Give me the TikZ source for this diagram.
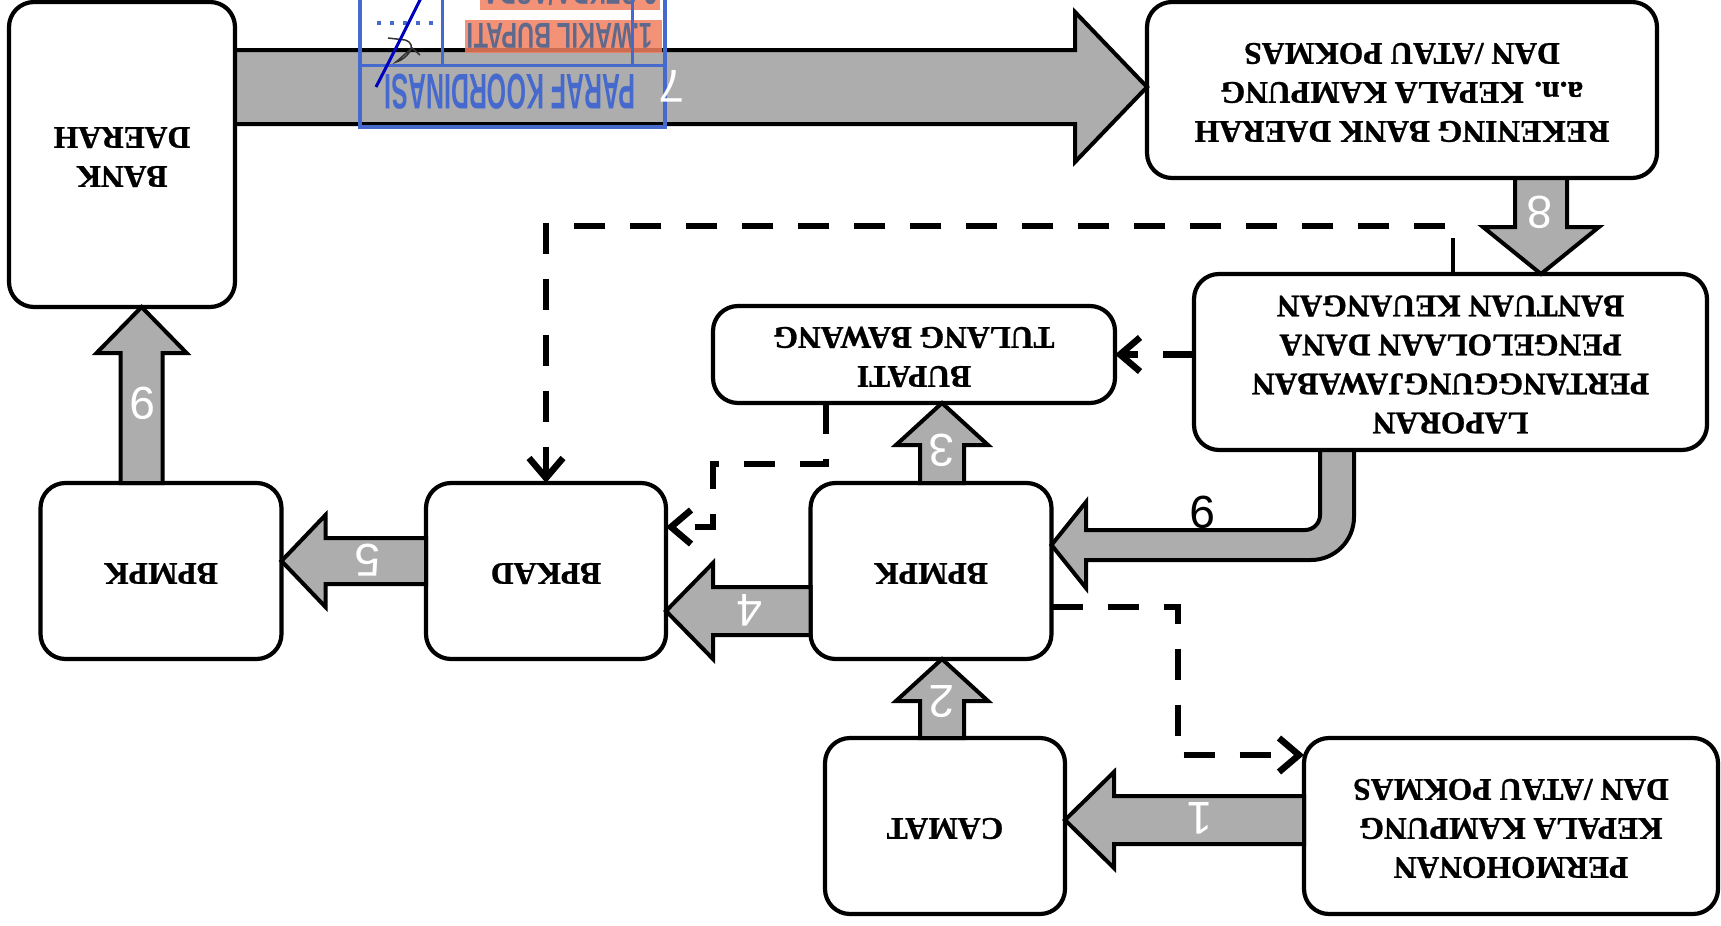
\documentclass[tikz,border=0pt]{standalone}
\usepackage{fontspec}
\setmainfont{Liberation Serif}[BoldFeatures={FakeBold=0.9}]
\newfontfamily\numfont{Liberation Sans}
\usetikzlibrary{calc,arrows.meta}
\definecolor{arrgray}{gray}{0.68}
\definecolor{stampblue}{RGB}{70,105,205}
\definecolor{stamporange}{RGB}{242,128,96}
\definecolor{stamptext}{RGB}{95,105,140}
\newcommand\turn[1]{\rotatebox{180}{\begin{tabular}{@{}c@{}}#1\end{tabular}}}
% horizontal block arrow: from, to, y, shaft half, head half, head length (signed)
\newcommand\harr[6]{%
  \coordinate (ha) at (#1 |- 0,#3);
  \coordinate (hb) at (#2 |- 0,#3);
  \draw[blk] ($(ha)+(0,-#4)$) -- ($(hb)+(#6,-#4)$) -- ($(hb)+(#6,-#5)$) -- (hb)
    -- ($(hb)+(#6,#5)$) -- ($(hb)+(#6,#4)$) -- ($(ha)+(0,#4)$) -- cycle;}
% vertical block arrow: from, to, x, shaft half, head half, head length (signed)
\newcommand\varr[6]{%
  \coordinate (va) at (#1 -| #3,0);
  \coordinate (vb) at (#2 -| #3,0);
  \draw[blk] ($(va)+(-#4,0)$) -- ($(vb)+(-#4,#6)$) -- ($(vb)+(-#5,#6)$) -- (vb)
    -- ($(vb)+(#5,#6)$) -- ($(vb)+(#4,#6)$) -- ($(va)+(#4,0)$) -- cycle;}
\begin{document}
\begin{tikzpicture}[x=1pt,y=-1pt,
  box/.style={draw, line width=4.2pt, rounded corners=25pt, fill=white, align=center,
    font=\fontsize{31.5}{39}\selectfont\bfseries, inner sep=0pt, outer sep=0pt},
  blk/.style={draw, line width=4pt, fill=arrgray, line join=miter},
  dsh/.style={line width=6.5pt, dash pattern=on 31pt off 25pt,
    -{Straight Barb[length=20pt,width=34pt]}},
  num/.style={font=\numfont\fontsize{46}{46}\selectfont, text=white, rotate=180, inner sep=0pt}]
\fill[white] (0,0) rectangle (1721,926);
\useasboundingbox (0,0) rectangle (1721,926);

% boxes
\node[box, minimum width=226pt, minimum height=305pt] (bank) at (122,154.5) {\turn{BANK\\DAERAH}};
\node[box, minimum width=510pt, minimum height=176pt] (rek) at (1402,90) {\turn{REKENING BANK DAERAH\\a.n. KEPALA KAMPUNG\\DAN /ATAU POKMAS}};
\node[box, minimum width=513pt, minimum height=176pt] (lap) at (1450.5,362) {\turn{LAPORAN\\PERTANGGUNGJAWABAN\\PENGELOLAAN DANA\\BANTUAN KEUANGAN}};
\node[box, minimum width=402pt, minimum height=97pt] (bup) at (914,354.5) {\turn{BUPATI\\TULANG BAWANG}};
\node[box, minimum width=241pt, minimum height=176pt] (bpm) at (931,571) {\turn{BPMPK}};
\node[box, minimum width=240pt, minimum height=176pt] (bpk) at (546,571) {\turn{BPKAD}};
\node[box, minimum width=241pt, minimum height=176pt] (bpl) at (161,571) {\turn{BPMPK}};
\node[box, minimum width=240pt, minimum height=176pt] (cam) at (945,826) {\turn{CAMAT}};
\node[box, minimum width=414pt, minimum height=176pt] (perm) at (1511,826) {\turn{PERMOHONAN\\KEPALA KAMPUNG\\DAN /ATAU POKMAS}};

% block arrows
\harr{bank.east}{rek.west}{87}{37}{75}{-72}
\varr{rek.south}{lap.north}{1541}{26}{58}{-47}
\varr{bpm.north}{bup.south}{942}{22}{46}{42}
\varr{cam.north}{bpm.south}{942}{22}{46}{42}
\varr{bpl.north}{bank.south}{141.6}{21}{45}{46}
\harr{perm.west}{cam.east}{820}{24}{48}{49}
\harr{bpm.west}{bpk.east}{611}{24}{48}{47}
\harr{bpk.west}{bpl.east}{561}{23}{46}{44}
\draw[blk] (lap.south -| 1320,0) -- (1320,515) arc[start angle=0,end angle=90,radius=15]
  -- (1086,530) -- (1086,502) -- (bpm.east |- 0,545) -- (1086,588) -- (1086,560)
  -- (1311,560) arc[start angle=90,end angle=0,radius=43] -- (lap.south -| 1354,0) -- cycle;

% dashed connectors
\draw[dsh] (lap.west |- bup.east) -- (bup.east);
\draw[line width=4pt] (lap.north -| 1453,0) -- (1453,238);
\draw[dsh] (1445,226) -- (546,226) -- (bpk.north);
\draw[dsh] (bup.south -| 826,0) |- (713,464) |- (bpk.east |- 0,527);
\draw[dsh] (bpm.east |- 0,607) -| (1178,755) -- (perm.west |- 0,755);

% stamp
\fill[stamporange, opacity=0.85] (465,20) rectangle (662,53);
\fill[stamporange, opacity=0.85] (480,-10) rectangle (660,10);
\node[rotate=180, xscale=0.65, inner sep=0pt, text=stamptext, font=\numfont\bfseries\fontsize{36}{36}\selectfont] (wk) at (560,36) {1.WAKIL BUPATI};
\node[rotate=180, xscale=0.65, inner sep=0pt, text=stamptext, font=\numfont\bfseries\fontsize{36}{36}\selectfont] (sk) at (570,-8) {2.SEKDA/ASDA};
\draw[stampblue, line width=3.5pt] (360,-5) rectangle (665,127);
\draw[stampblue, line width=3pt] (362,65) -- (665,65) (442,-5) -- (442,65) (632,-5) -- (632,65);
\draw[stampblue, line width=3.5pt, dash pattern=on 4pt off 9pt] (377,23) -- (433,23);
\node[rotate=180, xscale=0.5, inner sep=0pt, text=stampblue, font=\numfont\bfseries\fontsize{50}{50}\selectfont] (pk) at (510,92) {PARAF KOORDINASI};
\draw[gray!40!black, line width=1.5pt] (388,38) -- (405,40) .. controls (420,45) and (405,60) .. (396,62) -- (412,48) -- (420,55);
\draw[blue!75!black, line width=3pt] (376,87) .. controls (395,50) .. (421,-2);

% labels
\node[num] (l1) at (1200,818) {1};
\node[num] (l2) at (942,702) {2};
\node[num] (l3) at (942,450) {3};
\node[num] (l4) at (750,610) {4};
\node[num] (l5) at (368,560) {5};
\node[num] (l6) at (143,403) {9};
\node[num] (l7) at (672,86) {7};
\node[num] (l8) at (1540,212) {8};
\node[num, text=black] (l9) at (1203,512) {9};
\end{tikzpicture}
\end{document}
